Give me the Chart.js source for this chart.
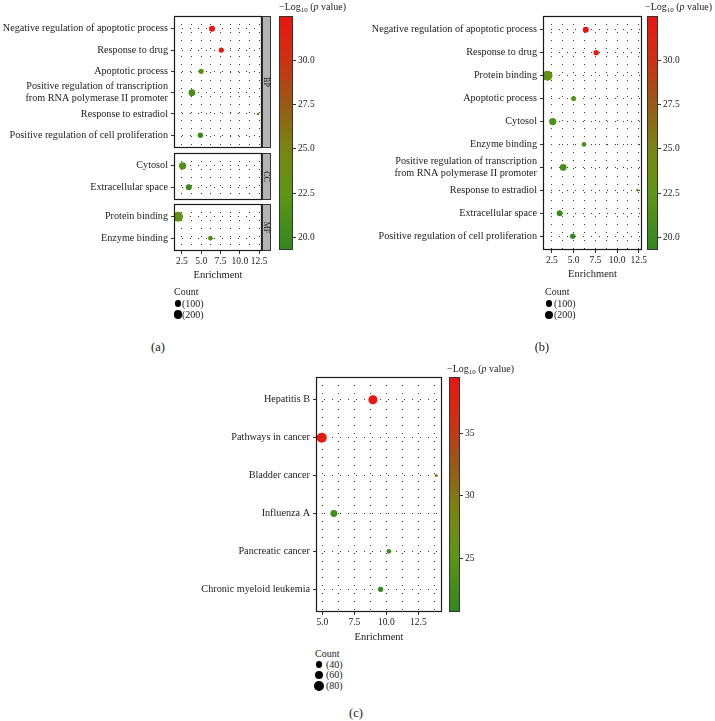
<!DOCTYPE html>
<html>
<head>
  <meta charset="utf-8">
  <title>GO / KEGG enrichment bubble plots</title>
  <script src="https://cdn.jsdelivr.net/npm/chart.js@4.4.1/dist/chart.umd.min.js"></script>
  <style>
    html, body { margin: 0; padding: 0; background: #ffffff; }
    body { position: relative; width: 715px; height: 721px; overflow: hidden;
           font-family: "Liberation Serif", "Times New Roman", serif; color: #1a1a1a; }
    canvas { position: absolute; }
    .lbl { position: absolute; white-space: nowrap; font-size: 10px; line-height: 12px; }
    .lbl sub { font-size: 7px; vertical-align: -2px; line-height: 0; }
    .dot { position: absolute; border-radius: 50%; background: #000; }
    .panel { position: absolute; font-size: 12.5px; line-height: 14px; transform: translateX(-50%); }
  </style>
</head>
<body>
<canvas id="bp" width="272" height="152" style="left:0px;top:6px"></canvas>
<canvas id="cc" width="272" height="67" style="left:0px;top:143px"></canvas>
<canvas id="mf" width="272" height="88" style="left:0px;top:194px"></canvas>
<canvas id="cbA" width="60" height="254" style="left:279px;top:6px"></canvas>

<canvas id="goAll" width="292" height="275" style="left:360px;top:6px"></canvas>
<canvas id="cbB" width="57" height="254" style="left:647px;top:6px"></canvas>

<canvas id="kegg" width="272" height="277" style="left:180px;top:367px"></canvas>
<canvas id="cbC" width="51" height="255" style="left:449px;top:367px"></canvas>

<div class="lbl" style="left:279px;top:1px">&minus;Log<sub>10</sub> (<i>p</i> value)</div>
<div class="lbl" style="left:645px;top:1px">&minus;Log<sub>10</sub> (<i>p</i> value)</div>
<div class="lbl" style="left:447px;top:363px">&minus;Log<sub>10</sub> (<i>p</i> value)</div>

<div class="panel" style="left:158px;top:340px">(a)</div>
<div class="panel" style="left:542px;top:340px">(b)</div>
<div class="panel" style="left:356px;top:706px">(c)</div>

<script>
// GO terms, ordered by -log10(p) (this is the order of panel b)
var goTerms = ["Negative regulation of apoptotic process", "Response to drug", "Protein binding",
               "Apoptotic process", "Cytosol", "Enzyme binding",
               "Positive regulation of transcription\nfrom RNA polymerase II promoter",
               "Response to estradiol", "Extracellular space", "Positive regulation of cell proliferation"];
var goOntology = ["BP", "BP", "MF", "BP", "CC", "MF", "BP", "BP", "CC", "BP"];
var goEnrichment = [6.4, 7.6, 2.0, 5.0, 2.6, 6.2, 3.8, 12.35, 3.4, 4.9];
var goLogP = [32.5, 31.6, 22.8, 22.0, 21.6, 21.3, 20.8, 20.4, 20.0, 19.3];
var goCount = [74, 55, 270, 50, 122, 42, 98, 20, 74, 55];

// KEGG pathways (panel c)
var keggTerms = ["Hepatitis B", "Pathways in cancer", "Bladder cancer", "Influenza A",
                 "Pancreatic cancer", "Chronic myeloid leukemia"];
var keggEnrichment = [8.95, 4.95, 13.9, 5.9, 10.2, 9.55];
var keggLogP = [39.5, 38.6, 30.0, 22.4, 21.6, 20.7];
var keggCount = [70, 85, 27, 45, 30, 33];

var facetNames = ["BP", "CC", "MF"];
var goXTicks = [2.5, 5.0, 7.5, 10.0, 12.5];
var keggXTicks = [5.0, 7.5, 10.0, 12.5];
var goColorTicks = [20.0, 22.5, 25.0, 27.5, 30.0];
var keggColorTicks = [25, 30, 35];
var goCountBreaks = [100, 200];
var keggCountBreaks = [40, 60, 80];

Chart.defaults.font.family = '"Liberation Serif", "Times New Roman", serif';
Chart.defaults.color = '#222222';

// green -> olive -> brown -> red ramp
var rampPos = [0, 0.25, 0.45, 0.62, 0.8, 1];
var rampRgb = [[50, 135, 30], [95, 150, 20], [125, 130, 18], [150, 90, 22], [205, 50, 18], [235, 20, 15]];
function rampColor(t) {
  t = Math.max(0, Math.min(1, t));
  var k = 1;
  while (k < rampPos.length - 1 && t > rampPos[k]) k++;
  var f = (t - rampPos[k - 1]) / (rampPos[k] - rampPos[k - 1]);
  var a = rampRgb[k - 1], b = rampRgb[k];
  return 'rgb(' + Math.round(a[0] + (b[0] - a[0]) * f) + ',' + Math.round(a[1] + (b[1] - a[1]) * f) + ',' +
         Math.round(a[2] + (b[2] - a[2]) * f) + ')';
}

function extent(v) { return [Math.min.apply(null, v), Math.max.apply(null, v)]; }
function expand(v, f) { var e = extent(v), d = (e[1] - e[0]) * f; return [e[0] - d, e[1] + d]; }

// point radius like scale_size (area palette)
function sizer(counts, dMin, dMax) {
  var e = extent(counts);
  return function (c) {
    var t = Math.max(0, (c - e[0]) / (e[1] - e[0]));
    return (dMin + (dMax - dMin) * Math.sqrt(t)) / 2;
  };
}

// panel border + facet strip
var framePlugin = {
  id: 'frame',
  afterDraw: function (chart, args, o) {
    var a = chart.chartArea, c = chart.ctx;
    c.save();
    if (o.strip) {
      c.fillStyle = '#b3b3b3';
      c.fillRect(a.right, a.top, 8, a.bottom - a.top);
      c.strokeStyle = '#333333';
      c.lineWidth = 1;
      c.strokeRect(a.right + 0.5, a.top + 0.5, 8, a.bottom - a.top - 1);
      c.translate(a.right + 4.5, (a.top + a.bottom) / 2);
      c.rotate(Math.PI / 2);
      c.fillStyle = '#1a1a1a';
      c.font = '8px "Liberation Serif"';
      c.textAlign = 'center';
      c.textBaseline = 'middle';
      c.fillText(o.strip, 0, 0);
      c.setTransform(1, 0, 0, 1, 0, 0);
    }
    c.strokeStyle = '#1a1a1a';
    c.lineWidth = 1.2;
    c.strokeRect(a.left + 0.5, a.top + 0.5, a.right - a.left - 1, a.bottom - a.top - 1);
    c.restore();
  }
};

var colorbarPlugin = {
  id: 'colorbar',
  afterDraw: function (chart) {
    var a = chart.chartArea, c = chart.ctx;
    var g = c.createLinearGradient(0, a.bottom, 0, a.top);
    for (var k = 0; k <= 24; k++) g.addColorStop(k / 24, rampColor(k / 24));
    c.save();
    c.fillStyle = g;
    c.fillRect(a.left, a.top, a.right - a.left, a.bottom - a.top);
    c.strokeStyle = '#333333';
    c.lineWidth = 1;
    c.strokeRect(a.left + 0.5, a.top + 0.5, a.right - a.left - 1, a.bottom - a.top - 1);
    c.restore();
  }
};

function dotChart(id, rows, opt) {
  var labels = rows.map(function (i) { return opt.terms[i]; });
  var pts = rows.map(function (i, k) { return { x: opt.xs[i], y: k }; });
  var cols = rows.map(function (i) { return rampColor((opt.ps[i] - opt.pRange[0]) / (opt.pRange[1] - opt.pRange[0])); });
  var rads = rows.map(function (i) { return opt.radius(opt.counts[i]); });
  var xt = opt.xTicks, half = (xt[1] - xt[0]) / 2, gridX = [];
  for (var v = xt[0] - half; v <= opt.xRange[1]; v += half) if (v >= opt.xRange[0]) gridX.push(v);
  var n = labels.length;

  return new Chart(document.getElementById(id), {
    type: 'scatter',
    data: {
      datasets: [{
        data: pts,
        pointBackgroundColor: cols,
        pointBorderWidth: 0,
        pointRadius: rads,
        pointHoverRadius: rads
      }]
    },
    options: {
      responsive: false,
      animation: false,
      events: [],
      layout: { padding: { left: 0, right: 10, top: 10, bottom: opt.showX ? 0 : 10 } },
      plugins: { legend: { display: false }, tooltip: { enabled: false }, frame: { strip: opt.strip } },
      scales: {
        x: {
          type: 'linear', min: opt.xRange[0], max: opt.xRange[1],
          afterBuildTicks: function (s) { s.ticks = gridX.map(function (g) { return { value: g }; }); },
          afterFit: function (s) { s.height = opt.showX ? opt.xAxisH : 0; },
          grid: {
            color: '#3a3a3a', tickLength: 3, drawTicks: !!opt.showX,
            tickColor: function (c) { return c.tick && xt.indexOf(c.tick.value) >= 0 ? '#333333' : 'rgba(0,0,0,0)'; }
          },
          border: { display: false, dash: [1, 7] },
          ticks: {
            display: !!opt.showX, autoSkip: false, maxRotation: 0, padding: 2, font: { size: 9.5 },
            callback: function (val) { return xt.indexOf(val) >= 0 ? val.toFixed(1) : ''; }
          },
          title: { display: !!opt.showX, text: 'Enrichment', font: { size: 10.5 }, padding: 0, color: '#1a1a1a' }
        },
        y: {
          type: 'linear', reverse: true, min: -0.6, max: n - 0.4,
          afterBuildTicks: function (s) { s.ticks = labels.map(function (l, k) { return { value: k }; }); },
          afterFit: function (s) { s.width = opt.yAxisW; },
          grid: { color: '#3a3a3a', tickLength: 3, tickColor: '#333333' },
          border: { display: false, dash: [1, 7] },
          ticks: {
            autoSkip: false, padding: 3, font: { size: 10.2 }, color: '#1a1a1a',
            callback: function (val) { return labels[val] ? labels[val].split('\n') : ''; }
          }
        }
      }
    },
    plugins: [framePlugin]
  });
}

function colorbar(id, range, ticks, digits, axisW) {
  return new Chart(document.getElementById(id), {
    type: 'scatter',
    data: { datasets: [] },
    options: {
      responsive: false,
      animation: false,
      events: [],
      layout: { padding: { left: 0, right: 0, top: 10, bottom: 10 } },
      plugins: { legend: { display: false }, tooltip: { enabled: false } },
      scales: {
        x: { display: false, min: 0, max: 1 },
        y: {
          position: 'right', min: range[0], max: range[1],
          afterBuildTicks: function (s) { s.ticks = ticks.map(function (t) { return { value: t }; }); },
          afterFit: function (s) { s.width = axisW; },
          grid: { drawOnChartArea: false, tickLength: 3, color: '#333333' },
          border: { display: false },
          ticks: { padding: 2, font: { size: 9.5 }, callback: function (val) { return val.toFixed(digits); } }
        }
      }
    },
    plugins: [colorbarPlugin]
  });
}

function countLegend(x, yTitle, ys, breaks, radius, textDx) {
  var html = '<div class="lbl" style="left:' + x + 'px;top:' + (yTitle - 6) + 'px">Count</div>';
  breaks.forEach(function (b, k) {
    var r = radius(b);
    html += '<div class="dot" style="left:' + (x + 4 - r) + 'px;top:' + (ys[k] - r) + 'px;width:' + (2 * r) + 'px;height:' + (2 * r) + 'px"></div>';
    html += '<div class="lbl" style="left:' + (x + textDx) + 'px;top:' + (ys[k] - 6) + 'px">(' + b + ')</div>';
  });
  document.body.insertAdjacentHTML('beforeend', html);
}

// ---- panel (a): faceted by ontology ----
var goX = expand(goEnrichment, 0.05);
var goP = extent(goLogP);
var goSize = sizer(goCount, 2.5, 10);
var allGo = goTerms.map(function (t, i) { return i; });
var base = { terms: goTerms, xs: goEnrichment, ps: goLogP, counts: goCount,
             pRange: goP, xRange: goX, xTicks: goXTicks, radius: goSize };

function facet(id, name, showX) {
  var rows = allGo.filter(function (i) { return goOntology[i] === name; });
  var o = Object.assign({}, base, { strip: name, showX: showX, xAxisH: 31, yAxisW: 174 });
  dotChart(id, rows, o);
}
facet('bp', facetNames[0], false);
facet('cc', facetNames[1], false);
facet('mf', facetNames[2], true);
colorbar('cbA', goP, goColorTicks, 1, 46);
countLegend(174, 292, [303.5, 314.5], goCountBreaks, goSize, 8);

// ---- panel (b): all GO terms together ----
dotChart('goAll', allGo, Object.assign({}, base, { showX: true, xAxisH: 31, yAxisW: 183 }));
colorbar('cbB', goP, goColorTicks, 1, 46);
countLegend(545, 292, [303.5, 315], goCountBreaks, goSize, 9);

// ---- panel (c): KEGG ----
var keggP = extent(keggLogP);
var keggSize = sizer(keggCount, 3, 10);
dotChart('kegg', keggTerms.map(function (t, i) { return i; }), {
  terms: keggTerms, xs: keggEnrichment, ps: keggLogP, counts: keggCount,
  pRange: keggP, xRange: expand(keggEnrichment, 0.05), xTicks: keggXTicks, radius: keggSize,
  showX: true, xAxisH: 32, yAxisW: 136
});
colorbar('cbC', keggP, keggColorTicks, 0, 40);
countLegend(315, 654, [664.5, 675, 686], keggCountBreaks, keggSize, 11);
</script>
</body>
</html>
